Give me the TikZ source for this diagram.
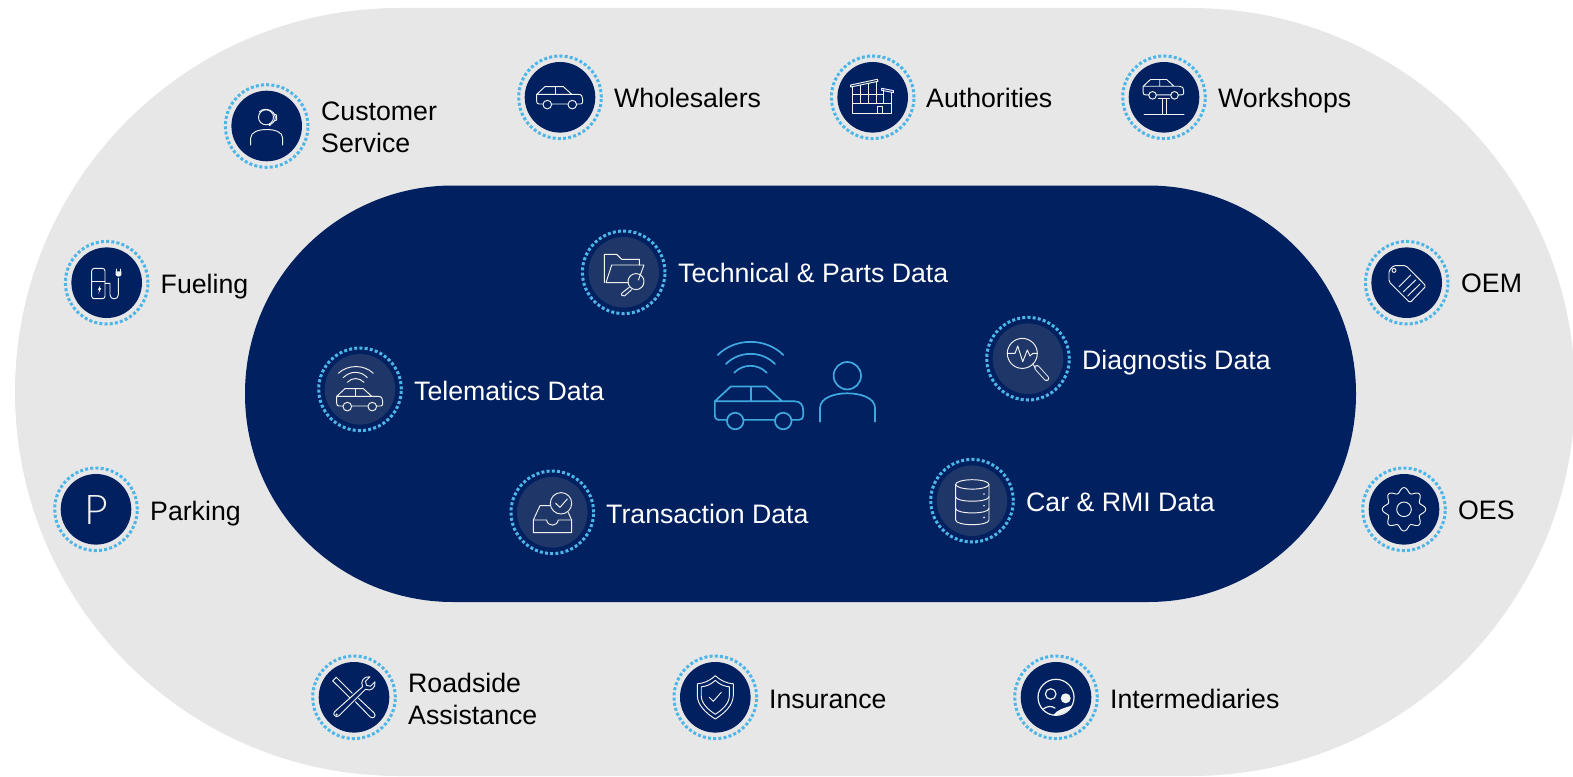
\documentclass[tikz,border=0pt]{standalone}
\usepackage{fontspec}
\setmainfont{Liberation Sans}
\newfontfamily\pfont{Lato Light}
\definecolor{bgouter}{HTML}{E7E7E7}
\definecolor{navy}{HTML}{002060}
\definecolor{discin}{HTML}{1F3768}
\definecolor{sky}{HTML}{4DB6E8}
\definecolor{skyline}{HTML}{3FA9DF}
\definecolor{iconw}{HTML}{F2F2F2}
\tikzset{
  lbl/.style={anchor=west,inner sep=0pt,align=left,font=\fontsize{26.7}{32}\selectfont},
  lblout/.style={lbl,text=black,text height=19pt,text depth=0pt},
  lblin/.style={lbl,text=white,text height=19pt,text depth=0pt},
  lbltwo/.style={lbl,text=black},
  hubdisc/.style={circle,draw=none,inner sep=0pt,minimum size=70.6pt},
  hubring/.style={circle,inner sep=0pt,minimum size=82.6pt,draw=sky,line width=3pt,dash pattern=on 3pt off 2.2pt},
  ico/.style={draw=iconw,line width=.95pt,line join=round,line cap=round},
  bigico/.style={draw=skyline,line width=1.7pt,line join=round,line cap=round},
}
% \dhub{name}{x}{y}{disc colour}{icon}{label x}{label y}{label style}{text}
\newcommand\dhub[9]{%
  \node[hubring] (#1ring) at (#2,#3) {};
  \node[hubdisc,fill=#4] (#1) at (#2,#3) {};
  \begin{scope}[shift={(#2,#3)},every path/.append style={ico}]#5\end{scope}
  \node[#8] (#1label) at (#6,#7) {#9};
}
\newcommand\carpath{%
  (-17.3,6.7) -- (-21,6.7) .. controls (-22.7,6.7) and (-23.3,5.7) .. (-23.3,4) -- (-23.3,-3) -- (-15,-10.7) -- (3.3,-10.7) -- (11.7,-3) -- (18,-3) .. controls (21.5,-3) and (22.7,-1) .. (22.7,2) -- (22.7,4.5) .. controls (22.7,6) and (21.7,6.7) .. (20.5,6.7) -- (17,6.7)
  (-8.3,6.7) -- (8,6.7)
  (-23.3,-3) -- (11.7,-3)
  (-4.5,-10.7) -- (-4.5,-3)
  (-12.7,7.3) circle[radius=4.3]
  (12.3,7.3) circle[radius=4.3]
}
\newcommand\icoagent{%
  \draw (-0.7,-8.7) circle[radius=7.5];
  \draw (-7.5,-14) .. controls (-5,-17.5) and (3,-18) .. (7,-13) .. controls (9,-10.5) and (9,-7.5) .. (8,-5);
  \draw (7,-12) -- (10,-11) -- (10,-6) -- (7.5,-5) (7.5,-5) .. controls (6,-2) and (3,-1.5) .. (3,-1.2);
  \fill[iconw,draw=iconw] (3,-1.2) circle[radius=.8];
  \draw (-16,19) -- (-16,12) .. controls (-16,6) and (-8,3.5) .. (0,3.5) .. controls (8,3.5) and (16,6) .. (16,12) -- (16,19);
}
\newcommand\icocar{\draw \carpath;}
\newcommand\icobuilding{%
  \draw (-22,-12.3) -- (4.7,-18) -- (5.3,-16) -- (-22,-10.3) -- cycle;
  \draw (9,-9) -- (20.7,-6.7) -- (20.7,-4.7) -- (9,-7) -- cycle;
  \draw (-20,-10.5) -- (-20,16.3) -- (19,16.3) -- (19,-5);
  \draw (-20,6) -- (19,6) (-20,-2.5) -- (10.7,-2.5);
  \draw (-12,-12) -- (-12,5.5) (-4,-13.8) -- (-4,5.5) (3.3,-15.5) -- (3.3,5.5) (10.7,-7.5) -- (10.7,6);
  \draw (4.7,16.3) -- (4.7,9.3) -- (10,9.3) -- (10,16.3);
}
\newcommand\icolift{%
  \begin{scope}[shift={(-0.3,-8.4)},scale=.88]\draw \carpath;\end{scope}
  \draw (-20,17) -- (20,17);
  \draw (-2,2) -- (-2,17) (2,2) -- (2,17);
  \draw (-5.7,1.3) -- (5.3,1.3);
}
\newcommand\icofuel{%
  \draw[rounded corners=2.5pt] (-1.7,16) -- (-15,16) -- (-15,-14.3) -- (-1.7,-14.3) -- cycle;
  \draw (-15,-1) -- (-1.7,-1);
  \fill[iconw,draw=none] (-6.5,2.5) -- (-9,7.5) -- (-7.5,7.5) -- (-8.3,11.3) -- (-5.5,5.5) -- (-7,5.5) -- cycle;
  \draw (-1.7,0.7) -- (3.3,0.7) -- (3.3,12) .. controls (3.3,17.5) and (11.7,17.5) .. (11.7,12) -- (11.7,-4.5);
  \fill[iconw,draw=none] (9,-11.3) -- (14.7,-11.3) -- (14.7,-8) .. controls (14.7,-5.5) and (9,-5.5) .. (9,-8) -- cycle;
  \draw (10,-11.3) -- (10,-13.5) (13.7,-11.3) -- (13.7,-13.5);
}
\newcommand\icopark{\node[inner sep=0pt,text=iconw,draw=none,font=\pfont\fontsize{41}{41}\selectfont] (parkingP) at (0,1) {P};}
\newcommand\icotag{%
  \draw[rounded corners=1.5pt] (-17.7,-1) -- (-17.7,-12) -- (-13.3,-17) -- (-0.7,-17) -- (19.3,3.3) -- (3.3,20) -- cycle;
  \draw (-12.7,-12.3) circle[radius=2];
  \draw (-7.7,4) -- (4,-7.7) (-3.3,9) -- (9,-2.7) (1,13.3) -- (13.3,1.3);
}
\newcommand\icogear{%
  \draw plot[domain=0:360,samples=145] (\x:{19.2+2.5*cos(8*\x)});
  \draw (0,0) circle[radius=7.3];
}
\newcommand\icotools{%
  \draw (8.5,-10.5) .. controls (6,-16) and (10,-21.5) .. (16,-20.5) -- (11.5,-16) -- (12.5,-12) -- (16.5,-11) -- (21,-15.5) .. controls (22,-9.5) and (16.5,-5.5) .. (11.5,-8) -- (-15,18.5) .. controls (-18,21) and (-22,17) .. (-19.5,14.5) -- cycle;
  \draw (-17.3,17.3) circle[radius=.7];
  \draw (-1.7,-4) -- (-17.7,-20) -- (-21.3,-16.5) -- (-4,0.7);
  \draw (1.5,4.5) -- (16,19.5) .. controls (19,22.5) and (23,18.5) .. (20,15.5) -- (4.5,1);
}
\newcommand\icoshield{%
  \draw (0,-21.7) .. controls (-6,-16) and (-12,-14) .. (-18,-13.5) -- (-18,-2) .. controls (-18,8) and (-9,16) .. (0,21.7) .. controls (9,16) and (18,8) .. (18,-2) -- (18,-13.5) .. controls (12,-14) and (6,-16) .. (0,-21.7) -- cycle;
  \begin{scope}[scale=.78]
  \draw (0,-21.7) .. controls (-6,-16) and (-12,-14) .. (-18,-13.5) -- (-18,-2) .. controls (-18,8) and (-9,16) .. (0,21.7) .. controls (9,16) and (18,8) .. (18,-2) -- (18,-13.5) .. controls (12,-14) and (6,-16) .. (0,-21.7) -- cycle;
  \end{scope}
  \draw (-6,0) -- (-2,4) -- (6,-5);
}
\newcommand\icopeople{%
  \draw[line width=1.2pt] (0,0) circle[radius=18];
  \draw[line width=1.2pt] (-5.3,-3.3) circle[radius=5.3];
  \fill[iconw,draw=none] (9.7,1) circle[radius=5];
  \fill[iconw,draw=none] (-2.7,17.8) .. controls (1,12) and (9,10.5) .. (16,8.2) .. controls (13.5,13) and (6,18.5) .. (-2.7,17.8) -- cycle;
  \draw[line width=1.2pt] (-12.7,11.7) .. controls (-9,8.5) and (-4,8.5) .. (-1,10.8);
}
\newcommand\icofolder{%
  \draw (-19.3,10.3) -- (-19.3,-18) -- (-7,-18) -- (-2,-13) -- (15.7,-13) -- (15.7,-7.3);
  \draw (4.7,10.3) -- (-17.7,10.3) -- (-12,-7.3) -- (20.3,-7.3) -- (14.7,7.7);
  \draw (12.3,9.3) circle[radius=8];
  \draw (5.5,15) -- (-1.5,20.5) .. controls (-3.5,22.5) and (-1,25) .. (1,23.5) -- (8,17.3);
}
\newcommand\icotele{%
  \begin{scope}[shift={(0,10)}]\draw \carpath;\end{scope}
  \draw (-21.7,-16) .. controls (-12,-25) and (4,-25) .. (13.3,-16);
  \draw (-16.7,-11.7) .. controls (-10,-18.7) and (1,-18.7) .. (7.3,-11.7);
  \draw (-12.7,-7) .. controls (-8,-12) and (-1,-12) .. (4,-7);
}
\newcommand\icodiag{%
  \draw (-5.7,-5.3) circle[radius=15];
  \draw (-20.7,-5.3) -- (-13,-5.3) -- (-10.3,-12.7) -- (-5.3,3) -- (-0.7,-8.7) -- (2,-2.7) -- (4.7,-5.3) -- (9.3,-5.3);
  \draw (4.7,5.5) -- (7.3,8.7);
  \draw[double=discin,double distance=3.6pt,line width=.9pt] (8.9,9) -- (18.5,19.7);
}
\newcommand\icotray{%
  \draw (8.7,-9) circle[radius=10.7];
  \draw (3.3,-9) -- (7.7,-5) -- (15,-13.3);
  \draw (-19,7.7) -- (-19,20.3) -- (19.3,20.3) -- (19.3,7.7) -- (6,7.7) .. controls (5,14.5) and (-4.7,14.5) .. (-5.7,7.7) -- cycle;
  \draw (-19,7.7) -- (-12.3,-6.7) -- (-2.3,-6.7) (16,0.3) -- (19.3,7.7);
}
\newcommand\icodb{%
  \draw (0.3,-16.3) ellipse[x radius=16.7,y radius=4.7];
  \draw (-16.4,-16.3) -- (-16.4,19.3) .. controls (-16.4,25.5) and (17,25.5) .. (17,19.3) -- (17,-16.3);
  \draw (-16.4,-4) .. controls (-16.4,2) and (17,2) .. (17,-4);
  \draw (-16.4,7.7) .. controls (-16.4,13.7) and (17,13.7) .. (17,7.7);
  \fill[iconw,draw=none] (12,-6.7) circle[radius=.9] (12,5) circle[radius=.9] (12,16.7) circle[radius=.9];
}
\begin{document}
\begin{tikzpicture}[x=1pt,y=-1pt]
\useasboundingbox (0,0) rectangle (1573,776);
\clip (0,0) rectangle (1573,776);
\path[fill=bgouter,rounded corners=384pt] (15,8) rectangle (1575,776);
\path[fill=navy,rounded corners=208pt] (245,185.5) rectangle (1356,602);

\dhub{customer}{266.7}{126}{navy}{\icoagent}{321}{127.5}{lbltwo}{Customer\\Service}
\dhub{wholesalers}{560}{97.3}{navy}{\icocar}{614}{97.5}{lblout}{Wholesalers}
\dhub{authorities}{872.7}{97.3}{navy}{\icobuilding}{926}{97.5}{lblout}{Authorities}
\dhub{workshops}{1164}{97.3}{navy}{\icolift}{1218}{97.5}{lblout}{Workshops}
\dhub{fueling}{106.7}{282.7}{navy}{\icofuel}{160.5}{283.5}{lblout}{Fueling}
\dhub{parking}{96}{509.3}{navy}{\icopark}{150}{510.5}{lblout}{Parking}
\dhub{oem}{1406.7}{282.7}{navy}{\icotag}{1461}{283}{lblout}{OEM}
\dhub{oes}{1404}{509.3}{navy}{\icogear}{1458}{509.5}{lblout}{OES}
\dhub{roadside}{354}{697.3}{navy}{\icotools}{408}{699}{lbltwo}{Roadside\\Assistance}
\dhub{insurance}{715.3}{697.3}{navy}{\icoshield}{769}{698.5}{lblout}{Insurance}
\dhub{intermediaries}{1056}{697.3}{navy}{\icopeople}{1110}{698.5}{lblout}{Intermediaries}

\dhub{technical}{623.7}{272.3}{discin}{\icofolder}{678}{272.5}{lblin}{Technical \& Parts Data}
\dhub{telematics}{360}{389.3}{discin}{\icotele}{414}{390.5}{lblin}{Telematics Data}
\dhub{transaction}{552.3}{512.3}{discin}{\icotray}{606}{513.5}{lblin}{Transaction Data}
\dhub{diagnostis}{1028}{358.7}{discin}{\icodiag}{1082}{359.5}{lblin}{Diagnostis Data}
\dhub{carrmi}{972}{500.7}{discin}{\icodb}{1026}{501.5}{lblin}{Car \& RMI Data}

% central car and person
\begin{scope}[shift={(759.6,407)},scale=1.92,every path/.append style={bigico}]
  \draw \carpath;
\end{scope}
\draw[bigico] (717.7,355) .. controls (735,337.5) and (766,337.5) .. (783.3,355);
\draw[bigico] (726,364) .. controls (739,350.5) and (762,350.5) .. (775,364);
\draw[bigico] (734.3,372.7) .. controls (743,363.5) and (758,363.5) .. (766.7,372.7);
\draw[bigico] (847.3,375.7) circle[radius=13.7];
\draw[bigico] (820,421.7) -- (820,408) .. controls (820,398) and (834,393.3) .. (847.3,393.3) .. controls (861,393.3) and (875,398) .. (875,408) -- (875,421.7);
\end{tikzpicture}
\end{document}
